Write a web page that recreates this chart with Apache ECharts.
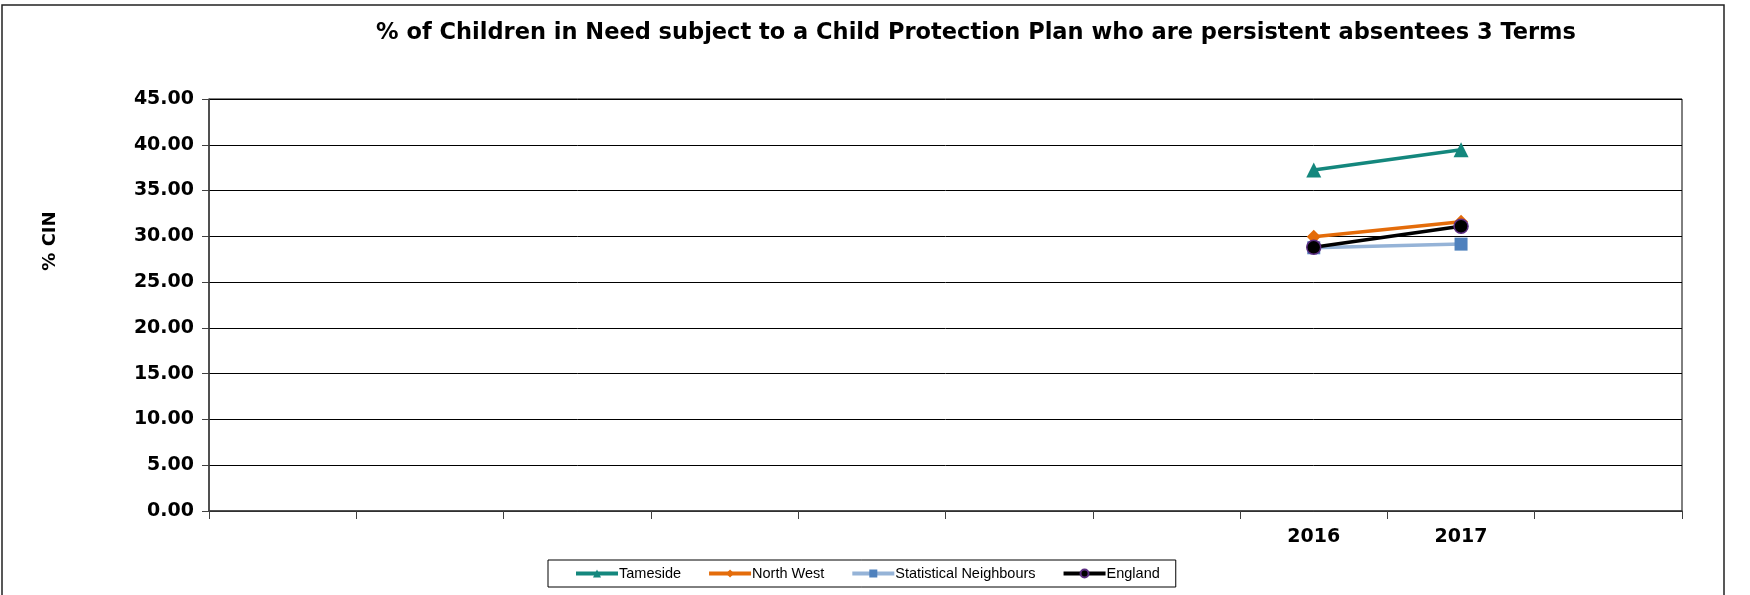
<!DOCTYPE html>
<html>
<head>
<meta charset="utf-8">
<script src="https://cdn.jsdelivr.net/npm/echarts@6/dist/echarts.min.js"></script>
<style>
  html, body { margin: 0; padding: 0; background: #fff; }
  #chart { width: 1750px; height: 595px; }
</style>
</head>
<body>
<div id="chart"></div>
<script>
// category slots, only the last years carry data
var categories = ['', '', '', '', '', '', '', '2016', '2017', '']
var tameside = [null, null, null, null, null, null, null, 37.25, 39.45, null]
var northWest = [null, null, null, null, null, null, null, 29.95, 31.6, null]
var statNeighbours = [null, null, null, null, null, null, null, 28.75, 29.15, null]
var england = [null, null, null, null, null, null, null, 28.8, 31.1, null]

var chart = echarts.init(document.getElementById('chart'))

function lineSeries(name, data, color, symbol, symbolSize, markerColor, markerBorder) {
  return {
    name: name,
    type: 'line',
    data: data,
    symbol: symbol,
    symbolSize: symbolSize,
    showSymbol: true,
    connectNulls: false,
    lineStyle: { color: color, width: 3.5 },
    itemStyle: {
      color: markerColor || color,
      borderColor: markerBorder || markerColor || color,
      borderWidth: markerBorder ? 1.5 : 0
    },
    emphasis: { disabled: true },
    z: 3
  }
}

chart.setOption({
  animation: false,
  textStyle: { fontFamily: 'DejaVu Sans' },
  title: {
    text: '% of Children in Need subject to a Child Protection Plan who are persistent absentees 3 Terms',
    left: 971,
    textAlign: 'center',
    top: 17,
    textStyle: { fontSize: 22.5, fontWeight: 'bold', color: '#000', fontFamily: 'DejaVu Sans' }
  },
  graphic: [{
    type: 'rect',
    shape: { x: 2, y: 5, width: 1722, height: 600 },
    style: { fill: 'none', stroke: '#222', lineWidth: 1.5 },
    silent: true
  }],
  grid: {
    left: 209,
    right: 68,
    top: 99,
    bottom: 84,
    show: true,
    borderColor: '#000',
    borderWidth: 1
  },
  legend: {
    left: 548,
    top: 560,
    padding: [6, 16, 6, 26],
    itemGap: 26,
    itemWidth: 42,
    itemHeight: 10,
    borderColor: '#000',
    borderWidth: 1,
    backgroundColor: '#fff',
    lineStyle: { width: 4 },
    textStyle: { fontFamily: 'Liberation Sans', fontSize: 14.5, color: '#000', padding: [0, 0, 0, -4] },
    data: ['Tameside', 'North West', 'Statistical Neighbours', 'England']
  },
  xAxis: {
    type: 'category',
    data: categories,
    boundaryGap: true,
    axisLine: { lineStyle: { color: '#404040', width: 1.5 } },
    axisTick: { show: true, length: 8, interval: 0, lineStyle: { color: '#404040' } },
    axisLabel: {
      interval: 0,
      margin: 17,
      fontSize: 19,
      fontWeight: 'bold',
      color: '#000',
      fontFamily: 'DejaVu Sans'
    },
    splitLine: { show: false }
  },
  yAxis: {
    type: 'value',
    min: 0,
    max: 45,
    interval: 5,
    name: '% CIN',
    nameLocation: 'middle',
    nameRotate: 90,
    nameGap: 150,
    nameTextStyle: {
      fontSize: 18,
      fontWeight: 'bold',
      color: '#000',
      fontFamily: 'DejaVu Sans',
      padding: [0, 0, 0, 128]
    },
    axisLine: { show: true, lineStyle: { color: '#404040', width: 1.5 } },
    axisTick: { show: true, length: 7, lineStyle: { color: '#404040' } },
    axisLabel: {
      margin: 15,
      fontSize: 19,
      fontWeight: 'bold',
      color: '#000',
      fontFamily: 'DejaVu Sans',
      formatter: function (v) { return v.toFixed(2) }
    },
    splitLine: { show: true, lineStyle: { color: '#000', width: 1 } }
  },
  series: [
    lineSeries('Tameside', tameside, '#14877d', 'triangle', 15),
    lineSeries('North West', northWest, '#e46c0a', 'diamond', 14),
    lineSeries('Statistical Neighbours', statNeighbours, '#95b3d7', 'rect', 13, '#4f81bd'),
    lineSeries('England', england, '#000000', 'circle', 14, '#000000', '#5c2d82')
  ]
})
</script>
</body>
</html>
